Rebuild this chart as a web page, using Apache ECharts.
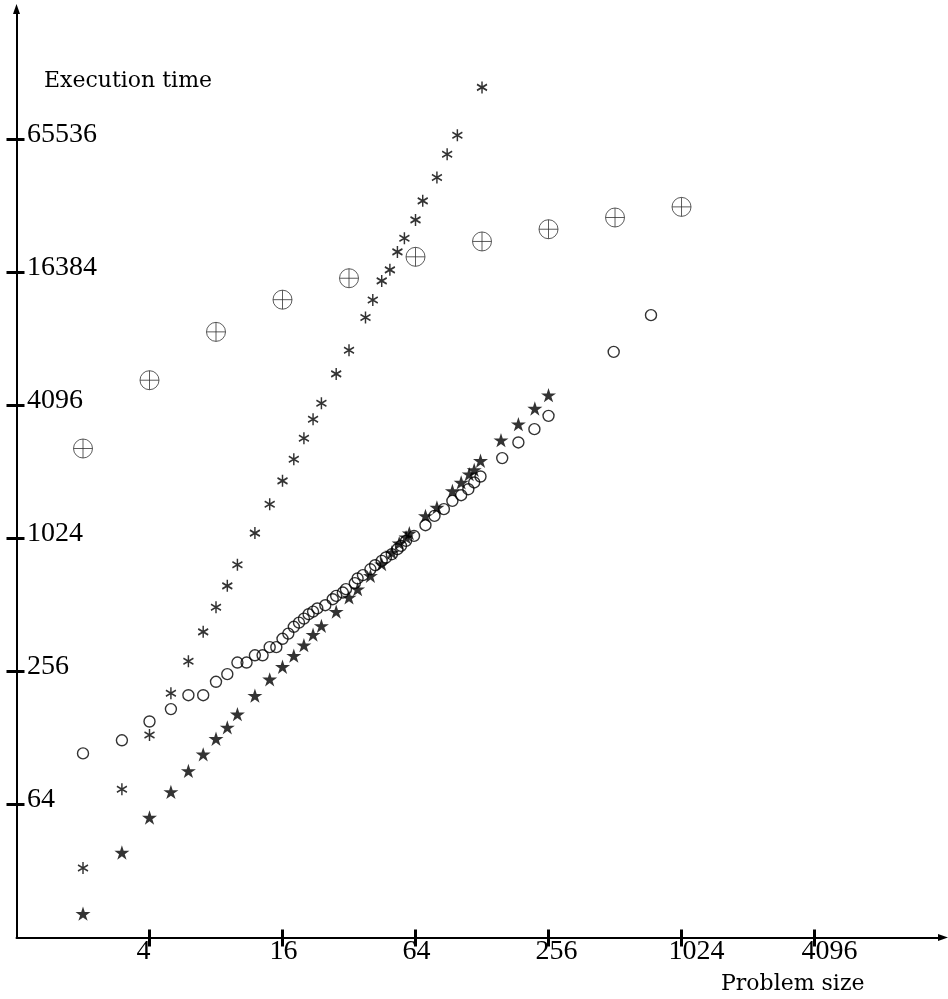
<!DOCTYPE html>
<html><head><meta charset="utf-8">
<script src="https://cdn.jsdelivr.net/npm/echarts@6/dist/echarts.min.js"></script>
<style>html,body{margin:0;padding:0;background:#fff}#c{width:948px;height:999px}</style>
</head><body><div id="c"></div>
<script>
// Tick labels
const xTicks = [4, 16, 64, 256, 1024, 4096];
const yTicks = [64, 256, 1024, 4096, 16384, 65536];

// Series 1: circled plus
const plusX = [2, 4, 8, 16, 32, 64, 128, 256, 512, 1024];
const plusY = [2616, 5331, 8823, 12340, 15430, 19290, 22640, 25720, 29060, 32460];

// Series 2: asterisks
const astX = [2, 3, 4, 5, 6, 7, 8, 9, 10, 12, 14, 16, 18, 20, 22, 24, 28, 32, 38, 41, 45, 49, 53, 57, 64, 69, 80, 89, 99, 128];
const astY = [33, 75, 132, 204, 285, 387, 500, 625, 779, 1083, 1464, 1867, 2340, 2912, 3551, 4195, 5694, 7290, 10249, 12310, 15010, 16840, 20310, 23430, 28350, 34570, 44100, 56240, 68550, 112800];

// Series 3: open circles
const circX = [2, 3, 4, 5, 6, 7, 8, 9, 10, 11, 12, 13, 14, 15, 16, 17, 18, 19, 20, 21, 22, 23, 25, 27, 28, 30, 31, 34, 35, 37, 40, 42, 45, 47, 50, 53, 55, 58, 63, 71, 78, 86, 94, 103, 111, 118, 126, 158, 187, 221, 256, 505, 745];
const circY = [109, 125, 152, 173, 200, 200, 230, 249, 281, 281, 303, 303, 330, 330, 360, 380, 408, 426, 444, 465, 478, 494, 511, 544, 563, 583, 604, 643, 675, 699, 743, 775, 811, 840, 869, 916, 948, 999, 1052, 1176, 1296, 1390, 1515, 1608, 1711, 1836, 1954, 2367, 2786, 3201, 3676, 7161, 10500];

// Series 4: filled stars
const starX = [2, 3, 4, 5, 6, 7, 8, 9, 10, 12, 14, 16, 18, 20, 22, 24, 28, 32, 35, 40, 45, 50, 54, 58, 60, 71, 80, 94, 103, 112, 118, 126, 156, 187, 222, 256];
const starY = [20.5, 38.8, 55.9, 73, 90.8, 108, 127, 143, 164, 199, 236, 269, 302, 337, 376, 412, 478, 554, 604, 694, 784, 885, 975, 1038, 1082, 1296, 1415, 1682, 1836, 2002, 2094, 2302, 2853, 3371, 3970, 4562];

const zip = (xs, ys) => xs.map((x, i) => [x, ys[i]]);

const SYM_PLUS = 'path://M0,-10A10,10 0 1,1 0,10A10,10 0 1,1 0,-10ZM-10,0L10,0M0,-10L0,10';
const SYM_AST = 'path://M0,-6L0,6M-5.2,-3L5.2,3M-5.2,3L5.2,-3';
const SYM_STAR = 'path://M0,-10L2.234,-3.074L9.511,-3.09L3.614,1.174L5.878,8.09L0,3.8L-5.878,8.09L-3.614,1.174L-9.511,-3.09L-2.234,-3.074Z';

const labelFont = {fontFamily: 'Liberation Serif', fontSize: 28, color: '#000'};
const titleFont = {fontFamily: 'DejaVu Serif', fontSize: 22, fontWeight: 'normal', color: '#000'};
const fmt = v => String(Math.round(v));

const XMIN = 1, XMAX = 15148, YMIN = 16, YMAX = 252700;

const chart = echarts.init(document.getElementById('c'), null, {renderer: 'canvas'});
chart.setOption({
  animation: false,
  backgroundColor: '#fff',
  title: [
    {text: 'Execution time', left: 44, top: 70, padding: 0, textStyle: titleFont},
    {text: 'Problem size', left: 721, top: 973, padding: 0, textStyle: titleFont}
  ],
  grid: {left: 16.5, right: 8, top: 10, bottom: 61.5, containLabel: false, outerBoundsMode: 'none'},
  xAxis: [
    {type: 'log', logBase: 2, min: XMIN, max: XMAX, position: 'bottom',
     axisLine: {show: true, lineStyle: {color: '#000', width: 2}, symbol: ['none', 'triangle'], symbolSize: [7, 10], symbolOffset: [0, 3]},
     axisTick: {show: true, customValues: xTicks, length: 9, inside: false, lineStyle: {color: '#000', width: 3}},
     axisLabel: Object.assign({show: true, customValues: xTicks, formatter: fmt, align: 'left', padding: [0, 0, 0, -13], margin: 0}, labelFont),
     splitLine: {show: false}, minorTick: {show: false}},
    {type: 'log', logBase: 2, min: XMIN, max: XMAX, position: 'bottom',
     axisLine: {show: false},
     axisTick: {show: true, customValues: xTicks, length: 8, inside: true, lineStyle: {color: '#000', width: 3}},
     axisLabel: {show: false}, splitLine: {show: false}}
  ],
  yAxis: [
    {type: 'log', logBase: 2, min: YMIN, max: YMAX, position: 'left',
     axisLine: {show: true, lineStyle: {color: '#000', width: 2}, symbol: ['none', 'triangle'], symbolSize: [7, 10], symbolOffset: [0, 1]},
     axisTick: {show: true, customValues: yTicks, length: 10, inside: false, lineStyle: {color: '#000', width: 3}},
     axisLabel: Object.assign({show: true, customValues: yTicks, formatter: fmt, inside: true, margin: 10.5, verticalAlign: 'bottom', lineHeight: 10}, labelFont),
     splitLine: {show: false}, minorTick: {show: false}},
    {type: 'log', logBase: 2, min: YMIN, max: YMAX, position: 'left',
     axisLine: {show: false},
     axisTick: {show: true, customValues: yTicks, length: 8, inside: true, lineStyle: {color: '#000', width: 3}},
     axisLabel: {show: false}, splitLine: {show: false}}
  ],
  series: [
    {type: 'scatter', name: 'plus', data: zip(plusX, plusY), symbol: SYM_PLUS, symbolSize: 19,
     itemStyle: {color: 'rgba(0,0,0,0)', borderColor: '#333', borderWidth: 1}, emphasis: {disabled: true}},
    {type: 'scatter', name: 'asterisk', data: zip(astX, astY), symbol: SYM_AST, symbolSize: [10, 12],
     itemStyle: {color: 'rgba(0,0,0,0)', borderColor: '#000', borderWidth: 1.6}, emphasis: {disabled: true}},
    {type: 'scatter', name: 'circle', data: zip(circX, circY), symbol: 'circle', symbolSize: 11,
     itemStyle: {color: 'rgba(0,0,0,0)', borderColor: '#000', borderWidth: 1.4}, emphasis: {disabled: true}},
    {type: 'scatter', name: 'star', data: zip(starX, starY), symbol: SYM_STAR, symbolSize: [15, 14.3],
     itemStyle: {color: '#000', borderWidth: 0}, emphasis: {disabled: true}}
  ]
});
</script>
</body></html>
